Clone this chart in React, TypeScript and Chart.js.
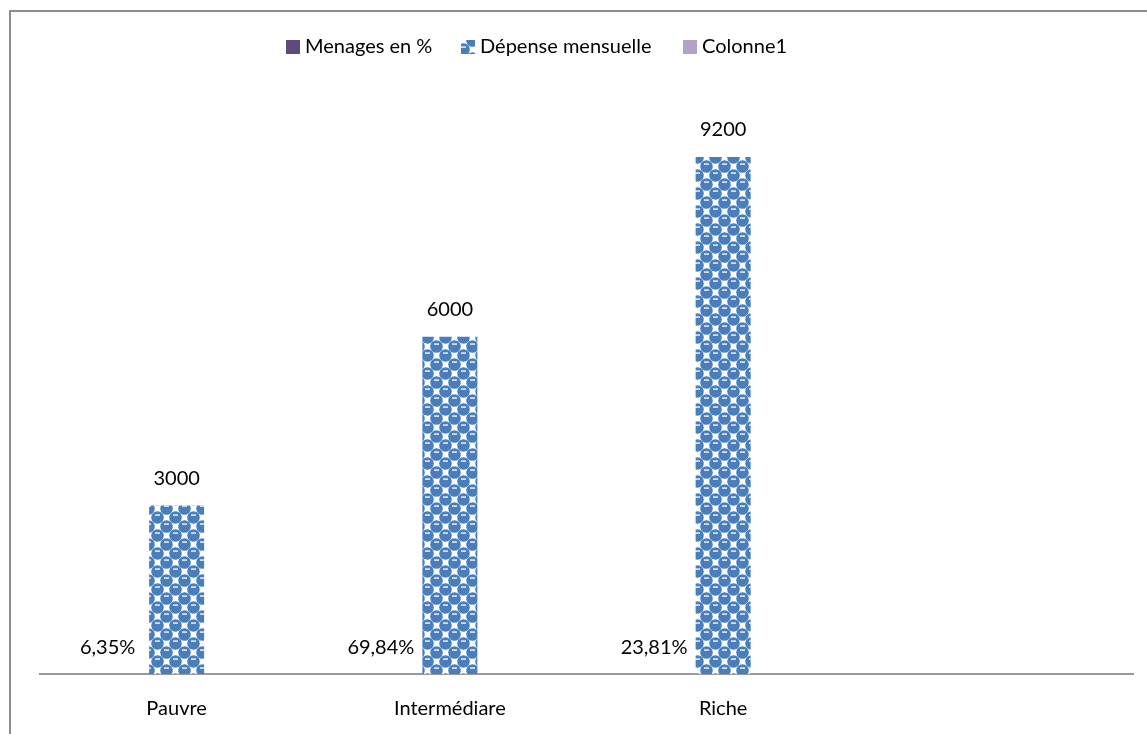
import React, { useEffect, useRef } from "react";
import { Chart, registerables } from "chart.js";

Chart.register(...registerables);

const categories = ["Pauvre", "Intermédiare", "Riche", ""];
const menagesPct = [0.0635, 0.6984, 0.2381, null];
const depenseMensuelle = [3000, 6000, 9200, null];
const colonne1 = [null, null, null, null];
const seriesNames = ["Menages en %", "Dépense mensuelle", "Colonne1"];
const seriesColors = ["#604a7b", "#4f81bd", "#b3a2c7"];

const FONT = "Lato, 'Open Sans', sans-serif";

function makePattern(): CanvasPattern | string {
  const c = document.createElement("canvas");
  const s = 18;
  c.width = s;
  c.height = s;
  const g = c.getContext("2d");
  if (!g) return "#4f81bd";
  g.fillStyle = "#ffffff";
  g.fillRect(0, 0, s, s);
  const dot = (x: number, y: number) => {
    g.fillStyle = "#4a7ebb";
    g.beginPath();
    g.arc(x, y, 6.3, 0, Math.PI * 2);
    g.fill();
  };
  const hi = (x: number, y: number) => {
    g.fillStyle = "#dfe8f5";
    g.fillRect(x - 2.5, y - 3.2, 5, 1.6);
  };
  const pts = [
    [4.5, 4.5],
    [13.5, 13.5],
  ];
  for (const [px, py] of pts) {
    for (const dx of [-s, 0, s]) {
      for (const dy of [-s, 0, s]) dot(px + dx, py + dy);
    }
  }
  for (const [px, py] of pts) {
    for (const dx of [-s, 0, s]) {
      for (const dy of [-s, 0, s]) hi(px + dx, py + dy);
    }
  }
  const p = g.createPattern(c, "repeat");
  return p || "#4f81bd";
}

const fmtPct = (v: number) => (v * 100).toFixed(2).replace(".", ",") + "%";

export default function App() {
  const ref = useRef<HTMLCanvasElement | null>(null);
  useEffect(() => {
    if (!ref.current) return;
    const pattern = makePattern();

    const framePlugin = {
      id: "frame",
      beforeDraw(chart: any) {
        const ctx = chart.ctx;
        ctx.save();
        ctx.fillStyle = "#ffffff";
        ctx.fillRect(0, 0, chart.width, chart.height);
        ctx.strokeStyle = "#8c8c8c";
        ctx.lineWidth = 2;
        ctx.beginPath();
        ctx.moveTo(10, chart.height);
        ctx.lineTo(10, 11);
        ctx.lineTo(chart.width, 11);
        ctx.stroke();
        ctx.restore();
      },
      afterDraw(chart: any) {
        const ctx = chart.ctx;
        ctx.save();
        ctx.font = `20px ${FONT}`;
        ctx.fillStyle = "#000000";
        ctx.textBaseline = "middle";
        // legend
        const items = [
          { x: 286, fill: seriesColors[0] },
          { x: 461, fill: pattern },
          { x: 683, fill: seriesColors[2] },
        ];
        items.forEach((it, i) => {
          ctx.fillStyle = it.fill as any;
          ctx.fillRect(it.x, 40, 14, 14);
          ctx.fillStyle = "#000000";
          ctx.textAlign = "left";
          ctx.fillText(seriesNames[i], it.x + 19, 47);
        });
        // data labels
        const m0 = chart.getDatasetMeta(0);
        const m1 = chart.getDatasetMeta(1);
        ctx.textAlign = "center";
        m1.data.forEach((bar: any, i: number) => {
          const v = depenseMensuelle[i];
          if (v == null) return;
          ctx.fillText(String(v), bar.x, bar.y - 27);
        });
        m0.data.forEach((bar: any, i: number) => {
          const v = menagesPct[i];
          if (v == null) return;
          ctx.fillText(fmtPct(v), bar.x - 14, chart.chartArea.bottom - 26);
        });
        ctx.restore();
      },
    };

    const chart = new Chart(ref.current, {
      type: "bar",
      data: {
        labels: categories,
        datasets: [
          { label: seriesNames[0], data: menagesPct, backgroundColor: seriesColors[0] },
          { label: seriesNames[1], data: depenseMensuelle, backgroundColor: pattern as any },
          { label: seriesNames[2], data: colonne1, backgroundColor: seriesColors[2] },
        ],
      },
      options: {
        responsive: false,
        animation: false,
        layout: { padding: { left: 40, right: 14, top: 112, bottom: 0 } },
        datasets: { bar: { categoryPercentage: 0.604, barPercentage: 1 } } as any,
        plugins: { legend: { display: false }, tooltip: { enabled: false } },
        scales: {
          x: {
            grid: { display: false, drawTicks: false },
            border: { display: true, color: "#9a9a9a", width: 2 },
            ticks: { color: "#000000", font: { family: FONT, size: 20 }, padding: 23 },
          },
          y: { display: false, min: 0, max: 10000 },
        },
      },
      plugins: [framePlugin],
    });
    return () => chart.destroy();
  }, []);
  return (
    <div style={{ position: "absolute", left: 0, top: 0, width: 1147, height: 734, overflow: "hidden" }}>
      <canvas ref={ref} width={1147} height={744} style={{ display: "block" }} />
    </div>
  );
}
